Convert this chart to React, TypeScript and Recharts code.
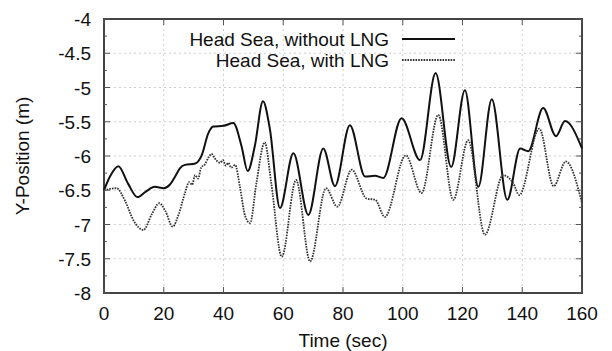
import React from 'react';
import { LineChart, Line, XAxis, YAxis, CartesianGrid, ReferenceArea } from 'recharts';

// time (sec) and Y-position (m)
const withoutLngTime = [0, 2, 4.8, 8, 11.2, 14, 17, 20, 22, 23.8, 25.4, 27.1, 30.5, 32.7, 34.9, 36.6, 40, 43.3, 46, 48.1, 50.5, 53.2, 55.5, 58.9, 63.4, 68.4, 73.4, 77.3, 82.3, 87.4, 90.7, 93.5, 99.6, 105.8, 111, 116.2, 120.8, 125.3, 129.8, 135, 139.3, 142, 147, 151.3, 154.3, 160];
const withoutLngY = [-6.5, -6.3, -6.15, -6.4, -6.6, -6.52, -6.45, -6.47, -6.42, -6.3, -6.18, -6.13, -6.11, -5.99, -5.67, -5.57, -5.56, -5.52, -5.85, -6.22, -5.85, -5.2, -5.6, -6.76, -5.96, -6.86, -5.89, -6.44, -5.55, -6.3, -6.29, -6.32, -5.45, -6.06, -4.79, -6.16, -5.04, -6.45, -5.17, -6.64, -5.89, -5.93, -5.3, -5.71, -5.49, -5.89];

const withLngTime = [0, 4.2, 7, 10, 13.2, 16, 18.5, 20.5, 23, 25, 27.1, 28.5, 29.5, 30.5, 31.5, 32.5, 33.8, 35, 36, 37, 38, 38.8, 39.8, 40.8, 41.6, 42.6, 43.9, 45.5, 47.2, 48.9, 51, 53.8, 56, 59.5, 64.3, 69, 74.3, 78.1, 82.9, 87.9, 90.8, 94, 101, 106.3, 111.9, 116.9, 121.9, 127.5, 133.6, 137, 139, 145.7, 150.5, 154.6, 160];
const withLngY = [-6.5, -6.47, -6.65, -6.95, -7.08, -6.85, -6.69, -6.8, -7.03, -6.85, -6.54, -6.38, -6.42, -6.28, -6.33, -6.17, -6.12, -6.02, -5.97, -6.03, -6.08, -6.1, -6.06, -6.14, -6.1, -6.17, -6.13, -6.45, -6.87, -6.98, -6.4, -5.8, -6.4, -7.47, -6.35, -7.54, -6.47, -6.74, -6.2, -6.62, -6.64, -6.89, -5.99, -6.54, -5.4, -6.64, -5.77, -7.15, -6.28, -6.4, -6.57, -5.6, -6.44, -6.08, -6.69];

const xTicks = [0, 20, 40, 60, 80, 100, 120, 140, 160];
const yTicks = [-8, -7.75, -7.5, -7.25, -7, -6.75, -6.5, -6.25, -6, -5.75, -5.5, -5.25, -5, -4.75, -4.5, -4.25, -4];

const seriesNames = ['Head Sea, without LNG', 'Head Sea, with LNG'];

const withoutLng = withoutLngTime.map((t, i) => ({ t, y: withoutLngY[i] }));
const withLng = withLngTime.map((t, i) => ({ t, y: withLngY[i] }));

const PLOT_LEFT = 104;
const PLOT_RIGHT = 582;
const PLOT_TOP = 19;
const PLOT_BOTTOM = 293;
const FONT = 'Liberation Sans, Arial, sans-serif';

const seriesStyle = [
  { stroke: '#111', strokeWidth: 2, strokeDasharray: undefined },
  { stroke: '#333', strokeWidth: 1.8, strokeDasharray: '1.6 1.1' },
];

const YTick = (props: any) => {
  const { y, payload } = props;
  const v = payload.value;
  const major = Math.abs(v * 2 - Math.round(v * 2)) < 1e-6;
  const len = major ? 6 : 3;
  return (
    <g>
      <line x1={PLOT_LEFT} x2={PLOT_LEFT + len} y1={y} y2={y} stroke="#555" />
      <line x1={PLOT_RIGHT} x2={PLOT_RIGHT - len} y1={y} y2={y} stroke="#555" />
      {major && (
        <text x={91} y={y} dy={7} textAnchor="end" fontSize={19} fontFamily={FONT} fill="#111">
          {v}
        </text>
      )}
    </g>
  );
};

const XTick = (props: any) => {
  const { x, payload } = props;
  return (
    <g>
      <line x1={x} x2={x} y1={PLOT_BOTTOM} y2={PLOT_BOTTOM - 6} stroke="#555" />
      <line x1={x} x2={x} y1={PLOT_TOP} y2={PLOT_TOP + 6} stroke="#555" />
      <text x={x} y={320} textAnchor="middle" fontSize={19} fontFamily={FONT} fill="#111">
        {payload.value}
      </text>
    </g>
  );
};

const gridLine = (props: any) => {
  if (props.index % 2 !== 0) return <g key={props.key} />;
  return <line key={props.key} x1={props.x1} x2={props.x2} y1={props.y1} y2={props.y2} stroke="#cfcfcf" strokeDasharray="2 3" />;
};

export default function App() {
  return (
    <div style={{ position: 'absolute', left: 0, top: 0, background: '#fff' }}>
      <LineChart width={612} height={351} margin={{ top: PLOT_TOP, right: 612 - PLOT_RIGHT, left: 0, bottom: 0 }}>
        <CartesianGrid stroke="#cfcfcf" strokeDasharray="2 3" horizontal={gridLine} />
        <XAxis
          type="number"
          dataKey="t"
          domain={[0, 160]}
          ticks={xTicks}
          height={351 - PLOT_BOTTOM}
          axisLine={false}
          tickLine={false}
          tick={XTick}
          interval={0}
          allowDuplicatedCategory={false}
        />
        <YAxis
          type="number"
          domain={[-8, -4]}
          ticks={yTicks}
          width={PLOT_LEFT}
          axisLine={false}
          tickLine={false}
          tick={YTick}
          interval={0}
        />
        <ReferenceArea x1={0} x2={160} y1={-8} y2={-4} fill="none" stroke="#444" strokeWidth={2} ifOverflow="visible" />
        <Line
          data={withoutLng}
          dataKey="y"
          name={seriesNames[0]}
          type="monotone"
          {...seriesStyle[0]}
          dot={false}
          isAnimationActive={false}
        />
        <Line
          data={withLng}
          dataKey="y"
          name={seriesNames[1]}
          type="monotone"
          {...seriesStyle[1]}
          dot={false}
          isAnimationActive={false}
        />
        {/* legend, top centre of the plot */}
        {seriesNames.map((name, i) => (
          <g key={name}>
            <text x={389} y={39 + i * 21} dy={7} textAnchor="end" fontSize={19} fontFamily={FONT} fill="#111">
              {name}
            </text>
            <line x1={402} x2={455} y1={39 + i * 21} y2={39 + i * 21} {...seriesStyle[i]} />
          </g>
        ))}
        <text x={343} y={347} textAnchor="middle" fontSize={19} fontFamily={FONT} fill="#111">
          Time (sec)
        </text>
        <text
          x={22}
          y={156}
          textAnchor="middle"
          fontSize={19}
          fontFamily={FONT}
          fill="#111"
          transform="rotate(-90 22 156)"
          dy={7}
        >
          Y-Position (m)
        </text>
      </LineChart>
    </div>
  );
}
